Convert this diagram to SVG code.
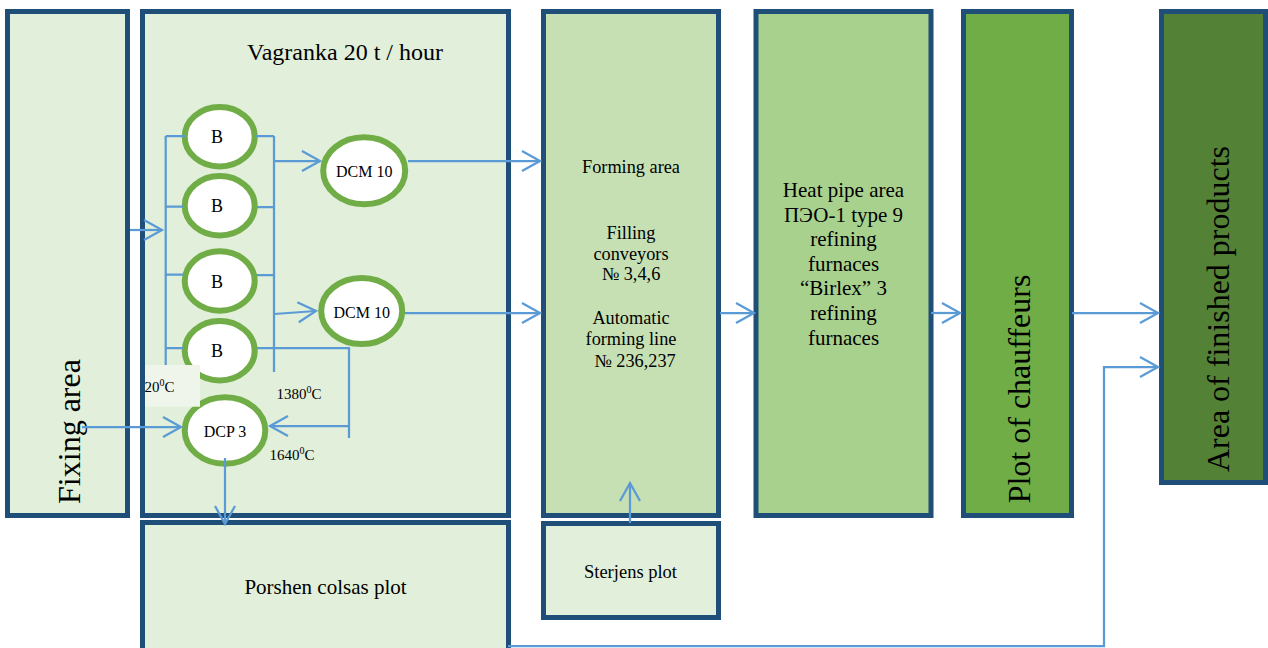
<svg xmlns="http://www.w3.org/2000/svg" width="1268" height="648" viewBox="0 0 1268 648">
<style>
.box{stroke:#1F4E79;stroke-width:5}
.l1{fill:#E2EFDA}.l2{fill:#C6E0B4}.l3{fill:#A9D18E}.l4{fill:#70AD47}.l5{fill:#538135}
.t{font-family:"Liberation Serif","Times New Roman",serif;fill:#000}
.ell{fill:#fff;stroke:#70AD47;stroke-width:6}
.c{fill:none;stroke:#5B9BD5;stroke-width:2.25}
.a{marker-end:url(#arr)}
</style>
<defs>
<marker id="arr" markerUnits="userSpaceOnUse" markerWidth="24" markerHeight="24" refX="19" refY="11" orient="auto" overflow="visible">
<path d="M1,1 L19,11 L1,21" fill="none" stroke="#5B9BD5" stroke-width="2.25"/>
</marker>
</defs>
<rect width="1268" height="648" fill="#fff"/>
<g id="fixing">
<rect class="box l1" x="7.5" y="11.5" width="120" height="504"/>
<text class="t" font-size="32" text-anchor="middle" transform="translate(80,431.5) rotate(-90)">Fixing area</text>
</g>
<g id="vagranka">
<rect class="box l1" x="142.5" y="11.5" width="366" height="504"/>
<text class="t" font-size="24" x="345" y="60" text-anchor="middle">Vagranka 20 t / hour</text>
</g>
<g id="porshen">
<rect class="box l1" x="142.5" y="522.5" width="366" height="130"/>
<text class="t" font-size="21" x="325.5" y="594" text-anchor="middle">Porshen colsas plot</text>
</g>
<g id="forming">
<rect class="box l2" x="543.5" y="11.5" width="175" height="504"/>
<g class="t" font-size="18.3" text-anchor="middle">
<text x="631" y="173">Forming area</text>
<text x="631" y="239">Filling</text>
<text x="631" y="260">conveyors</text>
<text x="631" y="280">№ 3,4,6</text>
<text x="631" y="324">Automatic</text>
<text x="631" y="345">forming line</text>
<text x="635" y="366.5">№ 236,237</text>
</g>
</g>
<g id="sterjens">
<rect class="box l1" x="543.5" y="523.5" width="175" height="94"/>
<text class="t" font-size="18.5" x="630.5" y="578" text-anchor="middle">Sterjens plot</text>
</g>
<g id="heatpipe">
<rect class="box l3" x="756" y="11.5" width="175" height="504"/>
<g class="t" font-size="21" text-anchor="middle">
<text x="843.5" y="197">Heat pipe area</text>
<text x="843.5" y="221.5">ПЭО-1 type 9</text>
<text x="843.5" y="246">refining</text>
<text x="843.5" y="270.5">furnaces</text>
<text x="843.5" y="295">“Birlex” 3</text>
<text x="843.5" y="319.5">refining</text>
<text x="843.5" y="344.5">furnaces</text>
</g>
</g>
<g id="chauffeurs">
<rect class="box l4" x="963.5" y="11.5" width="108" height="504"/>
<text class="t" font-size="32" text-anchor="middle" transform="translate(1030,389) rotate(-90)">Plot of chauffeurs</text>
</g>
<g id="finished">
<rect class="box l5" x="1161.5" y="11.5" width="104" height="471"/>
<text class="t" font-size="32" text-anchor="middle" transform="translate(1229,309) rotate(-90)">Area of finished products</text>
</g>
<g id="b1"><ellipse class="ell" cx="219.7" cy="136.7" rx="35" ry="29.7"/><text class="t" font-size="18" x="217" y="143" text-anchor="middle">B</text></g>
<g id="b2"><ellipse class="ell" cx="219.7" cy="205.7" rx="35" ry="29.7"/><text class="t" font-size="18" x="217" y="212" text-anchor="middle">B</text></g>
<g id="b3"><ellipse class="ell" cx="219.7" cy="281" rx="35" ry="29.7"/><text class="t" font-size="18" x="217" y="287.5" text-anchor="middle">B</text></g>
<g id="b4"><ellipse class="ell" cx="219.7" cy="350.8" rx="35" ry="29.7"/><text class="t" font-size="18" x="217" y="357" text-anchor="middle">B</text></g>
<g id="dcm1"><ellipse class="ell" cx="364.2" cy="170.8" rx="41" ry="33.5"/><text class="t" font-size="16" x="364.2" y="177.3" text-anchor="middle">DCM 10</text></g>
<g id="dcm2"><ellipse class="ell" cx="361.7" cy="311" rx="40.5" ry="33"/><text class="t" font-size="16" x="361.7" y="317.5" text-anchor="middle">DCM 10</text></g>
<g id="dcp3"><ellipse class="ell" cx="225" cy="430.5" rx="40.3" ry="33.2"/><text class="t" font-size="16" x="225" y="437" text-anchor="middle">DCP 3</text></g>
<g id="connectors">
<path class="c" d="M165.7,136V365M165.7,136H185M165.7,206.5H184M165.7,274.5H184M165.7,348H184"/>
<path class="c" d="M274,136V372M256,136H274M257,207H274M257,275H274M257,348H349V438"/>
<path class="c a" d="M130,230H162"/>
<path class="c a" d="M82,427H181"/>
<path class="c a" d="M274,161H320"/>
<path class="c a" d="M274,314L316,311"/>
<path class="c a" d="M408,161H540"/>
<path class="c a" d="M405,313H540"/>
<path class="c a" d="M349,426H270"/>
<path class="c a" d="M225,458V524"/>
<path class="c a" d="M630,523V483"/>
<path class="c a" d="M720,313H754"/>
<path class="c a" d="M931,313H960"/>
<path class="c a" d="M1072,313H1158"/>
<path class="c a" d="M508,646H1104V367H1158"/>
</g>
<g id="labels">
<rect x="145" y="365" width="55" height="41.7" fill="#EFF5EA"/>
<text class="t" font-size="15" x="144.5" y="391.5">20<tspan dy="-6" font-size="10">0</tspan><tspan dy="6">C</tspan></text>
<text class="t" font-size="15" x="276.5" y="399">1380<tspan dy="-6" font-size="10">0</tspan><tspan dy="6">C</tspan></text>
<text class="t" font-size="15" x="269.5" y="460">1640<tspan dy="-6" font-size="10">0</tspan><tspan dy="6">C</tspan></text>
</g>
</svg>
